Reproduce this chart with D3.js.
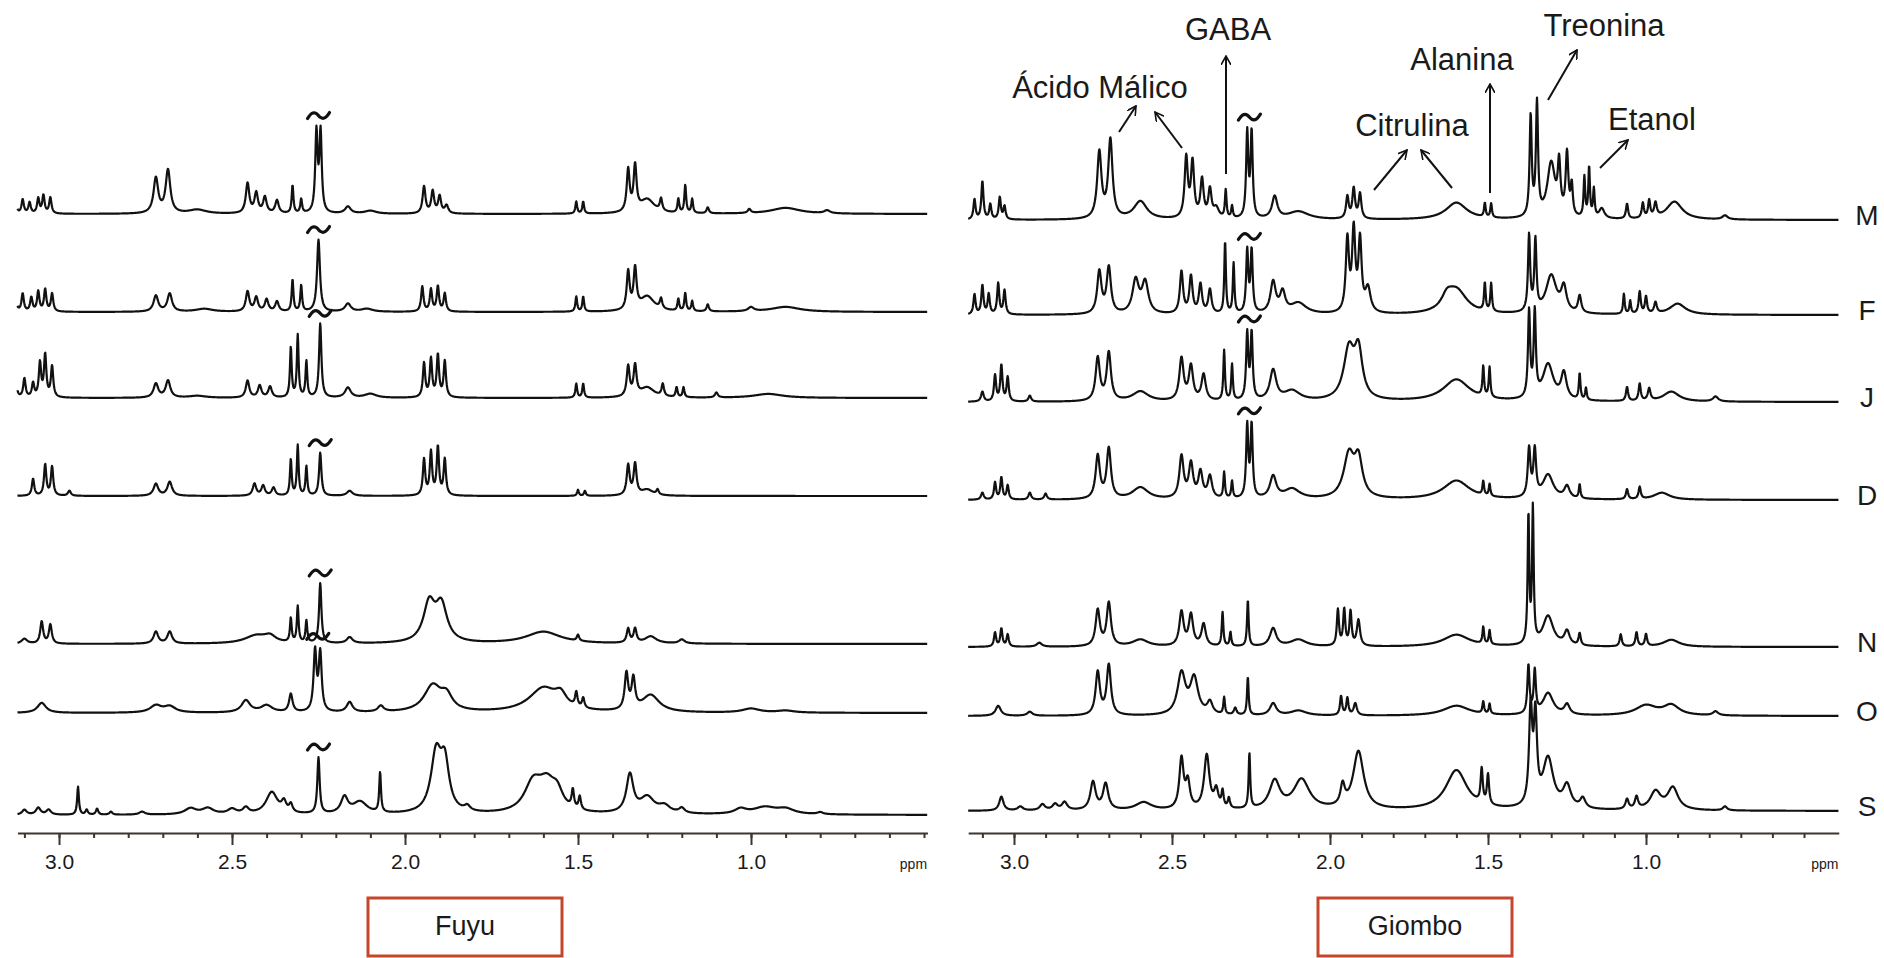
<!DOCTYPE html>
<html>
<head>
<meta charset="utf-8">
<script src="https://cdn.jsdelivr.net/npm/d3@7"></script>
<style>
  html, body { margin: 0; padding: 0; background: #fff; }
  svg { display: block; }
  text { font-family: "Liberation Sans", Arial, Helvetica, sans-serif; fill: #1a1a1a; }
</style>
</head>
<body>
<svg id="chart" width="1884" height="958"></svg>
<script>
// 1H NMR spectra, aliphatic region. Each spectrum is a list of peaks:
// [chemical shift (ppm), intensity, half width at half height (ppm)]

const sampleNames = ["M", "F", "J", "D", "N", "O", "S"];
const panelTitles = ["Fuyu", "Giombo"];
const majorTicks = [3.0, 2.5, 2.0, 1.5, 1.0];
const minorTicks = [3.1, 3.0, 2.9, 2.8, 2.7, 2.6, 2.5, 2.4, 2.3, 2.2, 2.1, 2.0, 1.9, 1.8, 1.7, 1.6, 1.5, 1.4, 1.3, 1.2, 1.1, 1.0, 0.9, 0.8, 0.7, 0.6, 0.5];

const fuyuM = [[3.125,10,.004],[3.105,14,.004],[3.085,11,.004],[3.06,15,.004],[3.045,18,.004],[3.025,16,.004],
  [2.72,35,.008],[2.685,43,.008],[2.60,4,.03],
  [2.455,30,.006],[2.43,20,.006],[2.405,16,.006],[2.37,13,.006],
  [2.325,28,.003],[2.30,14,.003],[2.256,80,.004],[2.244,80,.004],
  [2.165,7,.01],[2.10,3,.02],
  [1.945,27,.005],[1.92,22,.005],[1.90,17,.005],[1.88,8,.006],
  [1.505,12,.003],[1.485,12,.003],
  [1.355,42,.005],[1.335,45,.005],[1.30,14,.025],[1.26,12,.004],
  [1.21,14,.003],[1.19,28,.003],[1.17,14,.003],[1.125,6,.004],
  [1.005,4,.005],[0.90,6,.05],[0.78,3,.01]];
const fuyuF = [[3.125,12,.004],[3.105,18,.004],[3.08,14,.004],[3.06,20,.004],[3.04,22,.004],[3.02,18,.004],
  [2.72,16,.008],[2.68,18,.008],[2.58,3,.03],
  [2.455,20,.006],[2.43,14,.006],[2.40,12,.006],[2.37,10,.006],
  [2.325,32,.003],[2.30,26,.003],[2.25,72,.005],
  [2.165,8,.01],[2.11,3,.02],
  [1.95,25,.004],[1.925,22,.004],[1.905,25,.004],[1.885,18,.004],
  [1.505,15,.003],[1.485,15,.003],
  [1.355,38,.005],[1.335,40,.005],[1.30,15,.025],[1.26,10,.004],
  [1.21,12,.003],[1.19,18,.003],[1.17,10,.003],[1.125,7,.004],
  [1.0,4,.01],[0.90,5,.05]];
const fuyuJ = [[3.125,17,.004],[3.10,19,.004],[3.075,14,.004],[3.055,34,.004],[3.04,42,.004],[3.02,31,.004],
  [2.72,14,.008],[2.685,17,.008],[2.60,2,.03],
  [2.455,17,.006],[2.42,12,.006],[2.39,11,.006],
  [2.33,50,.003],[2.31,62,.003],[2.285,36,.003],[2.245,74,.004],
  [2.165,10,.01],[2.10,4,.02],
  [1.945,34,.004],[1.925,38,.004],[1.905,42,.004],[1.885,36,.004],
  [1.505,14,.003],[1.485,14,.003],
  [1.355,30,.005],[1.335,30,.005],[1.30,10,.025],[1.255,12,.004],
  [1.215,10,.003],[1.195,10,.003],[1.10,5,.005],[0.95,4,.05]];
const fuyuD = [[3.075,17,.004],[3.04,31,.004],[3.02,29,.004],[2.97,5,.005],
  [2.72,12,.008],[2.68,14,.008],
  [2.435,12,.006],[2.41,10,.006],[2.38,8,.006],
  [2.33,36,.003],[2.31,50,.003],[2.285,29,.003],[2.245,43,.004],
  [2.16,5,.01],
  [1.945,36,.004],[1.925,43,.004],[1.905,48,.004],[1.885,36,.004],
  [1.50,6,.003],[1.48,5,.003],
  [1.355,30,.005],[1.335,31,.005],[1.30,6,.02],[1.27,5,.004]];
const fuyuN = [[3.1,5,.01],[3.05,22,.005],[3.025,19,.005],
  [2.72,12,.008],[2.68,12,.008],
  [2.43,8,.04],[2.39,6,.02],
  [2.33,24,.003],[2.31,36,.003],[2.285,22,.003],[2.245,60,.004],
  [2.16,6,.01],
  [1.93,38,.02],[1.895,36,.02],
  [1.60,12,.06],[1.50,6,.004],
  [1.355,14,.005],[1.335,14,.005],[1.29,7,.02],[1.20,4,.01]];
const fuyuO = [[3.05,10,.015],[2.72,7,.02],[2.68,6,.02],
  [2.46,12,.015],[2.40,7,.02],
  [2.33,18,.006],[2.26,60,.005],[2.245,58,.005],
  [2.16,10,.01],[2.07,6,.01],
  [1.92,26,.03],[1.88,14,.02],
  [1.60,24,.05],[1.55,12,.02],
  [1.505,14,.004],[1.485,10,.004],
  [1.36,36,.006],[1.34,30,.006],[1.29,17,.03],
  [1.0,4,.03],[0.9,2,.03]];
const fuyuS = [[3.10,5,.008],[3.06,7,.008],[3.03,5,.008],
  [2.945,28,.003],[2.92,5,.004],[2.89,6,.004],[2.85,3,.005],
  [2.76,3,.01],[2.62,6,.02],[2.57,6,.02],[2.50,5,.015],
  [2.46,6,.01],
  [2.385,22,.02],[2.35,10,.008],[2.33,8,.006],
  [2.25,56,.004],
  [2.175,16,.012],[2.13,12,.025],
  [2.072,40,.003],
  [1.91,58,.018],[1.885,46,.015],[1.82,5,.01],
  [1.63,28,.03],[1.59,26,.03],[1.56,16,.02],
  [1.515,18,.004],[1.495,13,.004],
  [1.35,38,.012],[1.30,16,.025],[1.25,7,.02],[1.20,5,.01],
  [1.03,5,.02],[0.96,7,.04],[0.90,5,.03],[0.80,2,.01]];

const giomboM = [[3.125,20,.004],[3.10,38,.004],[3.075,15,.004],[3.045,22,.004],[3.03,13,.004],
  [2.73,66,.008],[2.695,78,.008],[2.60,18,.025],
  [2.455,60,.006],[2.435,55,.006],[2.405,38,.006],[2.38,28,.006],[2.36,10,.01],
  [2.33,28,.003],[2.31,12,.003],
  [2.262,85,.004],[2.248,85,.004],
  [2.175,22,.01],[2.10,8,.04],
  [1.945,22,.005],[1.925,30,.005],[1.905,25,.005],
  [1.60,17,.04],
  [1.51,14,.003],[1.49,14,.003],
  [1.365,100,.004],[1.345,112,.004],[1.30,55,.015],[1.275,48,.005],[1.25,62,.005],[1.235,30,.004],
  [1.195,40,.003],[1.18,50,.003],[1.165,28,.003],[1.14,10,.01],
  [1.06,15,.004],[1.01,15,.004],[0.99,17,.004],[0.97,14,.005],[0.91,18,.03],[0.75,4,.01]];
const giomboF = [[3.125,20,.004],[3.10,29,.004],[3.08,20,.004],[3.05,31,.004],[3.03,24,.004],
  [2.73,42,.008],[2.70,46,.008],[2.615,33,.012],[2.585,31,.012],
  [2.47,42,.006],[2.44,37,.006],[2.41,29,.006],[2.38,24,.006],
  [2.332,72,.003],[2.305,50,.003],
  [2.262,62,.004],[2.248,62,.004],
  [2.18,31,.01],[2.15,20,.01],[2.10,11,.03],
  [1.945,72,.006],[1.925,80,.006],[1.905,70,.006],[1.88,24,.01],
  [1.63,11,.02],[1.60,24,.04],
  [1.51,28,.003],[1.49,28,.003],
  [1.37,76,.004],[1.35,70,.004],[1.30,38,.02],[1.26,24,.01],[1.21,17,.006],
  [1.07,20,.003],[1.05,13,.003],[1.02,22,.004],[1.00,17,.004],[0.97,11,.005],[0.90,11,.03]];
const giomboJ = [[3.10,10,.005],[3.06,26,.004],[3.04,36,.004],[3.02,24,.004],[2.95,6,.005],
  [2.735,43,.008],[2.70,48,.008],[2.60,10,.03],
  [2.47,42,.008],[2.44,34,.008],[2.40,26,.008],
  [2.335,50,.003],[2.31,36,.003],
  [2.262,66,.004],[2.248,66,.004],
  [2.18,30,.012],[2.12,10,.03],
  [1.94,50,.02],[1.91,46,.015],
  [1.60,22,.05],
  [1.515,30,.003],[1.495,30,.003],
  [1.37,86,.004],[1.352,84,.004],[1.31,36,.02],[1.26,26,.01],[1.21,26,.003],[1.19,12,.003],
  [1.06,14,.004],[1.02,17,.004],[0.99,12,.005],[0.92,10,.03],[0.78,5,.01]];
const giomboD = [[3.10,7,.005],[3.06,17,.004],[3.04,22,.004],[3.02,14,.004],[2.95,7,.005],[2.90,6,.005],
  [2.735,43,.008],[2.70,50,.008],[2.60,12,.03],
  [2.47,42,.008],[2.44,34,.008],[2.41,26,.008],[2.38,22,.008],
  [2.335,26,.003],[2.31,17,.003],
  [2.262,72,.004],[2.248,72,.004],
  [2.18,22,.012],[2.12,10,.03],
  [1.94,43,.02],[1.91,36,.015],
  [1.60,19,.05],[1.515,14,.003],[1.495,12,.003],
  [1.37,48,.005],[1.352,46,.005],[1.31,24,.02],[1.25,12,.01],[1.21,14,.003],
  [1.06,10,.004],[1.02,12,.004],[0.95,7,.03]];
const giomboN = [[3.06,14,.004],[3.04,18,.004],[3.02,12,.004],[2.92,4,.01],
  [2.735,36,.008],[2.70,43,.008],[2.60,7,.03],
  [2.47,34,.008],[2.44,31,.008],[2.40,22,.008],
  [2.34,34,.003],[2.315,14,.003],
  [2.26,46,.003],
  [2.18,18,.012],[2.10,7,.03],
  [1.975,36,.004],[1.955,36,.004],[1.935,34,.004],[1.91,26,.006],
  [1.60,12,.05],[1.515,17,.003],[1.495,14,.003],
  [1.372,128,.003],[1.358,134,.003],[1.31,30,.02],[1.25,14,.01],[1.21,12,.004],
  [1.08,12,.004],[1.03,14,.004],[1.0,12,.004],[0.92,7,.03]];
const giomboO = [[3.05,10,.01],[2.95,4,.01],
  [2.735,43,.008],[2.70,50,.008],
  [2.47,41,.015],[2.43,36,.015],[2.38,12,.01],
  [2.335,17,.003],[2.30,7,.005],
  [2.26,38,.003],
  [2.18,12,.012],[2.10,5,.03],
  [1.965,19,.004],[1.945,17,.004],[1.92,12,.006],
  [1.60,10,.05],[1.515,12,.003],[1.495,10,.003],
  [1.372,48,.004],[1.352,42,.004],[1.31,22,.02],[1.25,10,.01],
  [1.0,10,.04],[0.92,10,.03],[0.78,4,.01]];
const giomboS = [[3.04,14,.008],[2.98,4,.01],[2.91,6,.01],[2.87,6,.01],[2.84,8,.01],
  [2.75,28,.01],[2.71,26,.01],[2.59,8,.03],
  [2.47,50,.008],[2.45,26,.008],[2.39,54,.01],[2.36,18,.008],
  [2.34,16,.004],[2.32,10,.004],
  [2.255,55,.003],
  [2.175,28,.02],[2.09,30,.03],
  [1.96,20,.008],[1.91,58,.02],
  [1.60,40,.04],[1.52,34,.004],[1.50,30,.004],
  [1.365,95,.006],[1.35,85,.006],[1.31,50,.02],[1.25,22,.015],[1.20,10,.01],
  [1.06,10,.006],[1.03,12,.006],[0.97,18,.02],[0.915,22,.02],[0.75,4,.008]];

const fuyuSpectra = [fuyuM, fuyuF, fuyuJ, fuyuD, fuyuN, fuyuO, fuyuS];
const giomboSpectra = [giomboM, giomboF, giomboJ, giomboD, giomboN, giomboO, giomboS];
// position of the signal that is cut off and marked with a break sign, per row
const fuyuCut = [2.25, 2.25, 2.245, 2.245, 2.245, 2.252, 2.25];
const giomboCut = [2.255, 2.255, 2.255, 2.255, null, null, null];

// labelled assignments (Giombo, top spectrum)
const assignments = [
  { name: "Ácido Málico", tx: 1100, ty: 90, arrows: [[1119,132,1136,106],[1182,148,1155,112]] },
  { name: "GABA", tx: 1228, ty: 32, arrows: [[1226,174,1226,56]] },
  { name: "Citrulina", tx: 1412, ty: 128, arrows: [[1374,190,1407,150],[1452,188,1421,150]] },
  { name: "Alanina", tx: 1462, ty: 62, arrows: [[1490,193,1490,84]] },
  { name: "Treonina", tx: 1604, ty: 28, arrows: [[1548,100,1577,50]] },
  { name: "Etanol", tx: 1652, ty: 122, arrows: [[1600,168,1628,140]] }
];

const svg = d3.select("#chart");

const panels = [
  { title: panelTitles[0], spectra: fuyuSpectra, cut: fuyuCut,
    x: d3.scaleLinear().domain([3.0, 1.0]).range([59, 751]),
    span: [3.12, 0.49],
    base: [214, 312, 398, 496, 644, 713, 815],
    box: [368, 562] },
  { title: panelTitles[1], spectra: giomboSpectra, cut: giomboCut,
    x: d3.scaleLinear().domain([3.0, 1.0]).range([1014, 1646]),
    span: [3.145, 0.39],
    base: [220, 315, 402, 500, 647, 716, 811],
    box: [1318, 1512] }
];

const axisY = 833;

function intensity(peaks, ppm) {
  let s = 0;
  for (const [c, h, w] of peaks) {
    const d = ppm - c;
    s += h * w * w / (d * d + w * w);
  }
  return s;
}

// break sign drawn above a cut-off signal
const tilde = d3.line().curve(d3.curveBasis);
function breakSign(g, cx, cy) {
  const pts = [[-11, 3], [-7, -3], [-2, -3], [2, 3], [7, 3], [11, -3]].map(([dx, dy]) => [cx + dx, cy + dy]);
  g.append("path").attr("d", tilde(pts))
    .attr("fill", "none").attr("stroke", "#111").attr("stroke-width", 3.2)
    .attr("stroke-linecap", "round");
}

panels.forEach((p, pi) => {
  const g = svg.append("g");
  const grid = d3.range(p.span[0], p.span[1], -0.0012);

  p.spectra.forEach((peaks, i) => {
    const y = d3.scaleLinear().domain([0, 100]).range([p.base[i], p.base[i] - 100]);
    const line = d3.line().x(d => p.x(d)).y(d => y(intensity(peaks, d)));
    g.append("path")
      .attr("d", line(grid))
      .attr("fill", "none")
      .attr("stroke", "#111")
      .attr("stroke-width", 2.2)
      .attr("stroke-linejoin", "round");

    if (p.cut[i] != null) {
      // highest point of the cut-off signal
      const near = grid.filter(d => Math.abs(d - p.cut[i]) < 0.02);
      const peakTop = d3.max(near, d => intensity(peaks, d));
      breakSign(g, p.x(p.cut[i]), y(peakTop) - 10);
    }

    if (pi === 1) {
      g.append("text")
        .attr("x", 1867)
        .attr("y", p.base[i] - 2)
        .attr("text-anchor", "middle")
        .attr("dominant-baseline", "middle")
        .attr("font-size", 28)
        .text(sampleNames[i]);
    }
  });

  // ppm axis
  const axisScale = p.x.copy().domain(p.span).range([p.x(p.span[0]), p.x(p.span[1])]);
  const minor = g.append("g").attr("transform", `translate(0,${axisY})`)
    .call(d3.axisBottom(axisScale).tickValues(minorTicks.filter(t => t <= p.span[0] && t >= p.span[1]))
      .tickSize(5).tickSizeOuter(0).tickFormat(""));
  const major = g.append("g").attr("transform", `translate(0,${axisY})`)
    .call(d3.axisBottom(axisScale).tickValues(majorTicks).tickSize(12).tickSizeOuter(0)
      .tickPadding(9).tickFormat(d3.format(".1f")));
  [minor, major].forEach(a => {
    a.selectAll("path, line").attr("stroke", "#3b3430").attr("stroke-width", 2);
  });
  major.select(".domain").remove();
  major.selectAll("text")
    .attr("font-size", 21)
    .attr("font-family", "Liberation Sans, Arial, sans-serif")
    .attr("fill", "#222");

  g.append("text")
    .attr("x", axisScale.range()[1] - 14)
    .attr("y", 869)
    .attr("text-anchor", "middle")
    .attr("font-size", 14)
    .text("ppm");

  // sample title box
  g.append("rect")
    .attr("x", p.box[0]).attr("y", 898)
    .attr("width", p.box[1] - p.box[0]).attr("height", 58)
    .attr("fill", "none").attr("stroke", "#c4472c").attr("stroke-width", 3);
  g.append("text")
    .attr("x", (p.box[0] + p.box[1]) / 2).attr("y", 928)
    .attr("text-anchor", "middle").attr("dominant-baseline", "middle")
    .attr("font-size", 27)
    .text(p.title);
});

// assignment labels and arrows
svg.append("defs").append("marker")
  .attr("id", "head").attr("viewBox", "0 0 10 10")
  .attr("refX", 9).attr("refY", 5)
  .attr("markerWidth", 10).attr("markerHeight", 10)
  .attr("markerUnits", "userSpaceOnUse")
  .attr("orient", "auto")
  .append("path").attr("d", "M0,0 L9,5 L0,10")
  .attr("fill", "none").attr("stroke", "#111").attr("stroke-width", 1.6);

const ann = svg.append("g");
assignments.forEach(a => {
  ann.append("text")
    .attr("x", a.tx).attr("y", a.ty)
    .attr("text-anchor", "middle").attr("dominant-baseline", "middle")
    .attr("font-size", 31)
    .text(a.name);
  a.arrows.forEach(([x1, y1, x2, y2]) => {
    ann.append("line")
      .attr("x1", x1).attr("y1", y1).attr("x2", x2).attr("y2", y2)
      .attr("stroke", "#111").attr("stroke-width", 2)
      .attr("marker-end", "url(#head)");
  });
});
</script>
</body>
</html>
